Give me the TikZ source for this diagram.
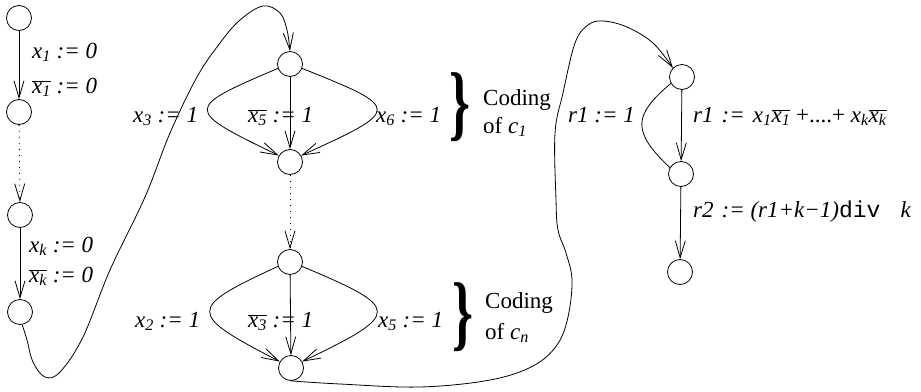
\documentclass[tikz,border=0pt]{standalone}
\usepackage{fontspec}
\setmainfont{Liberation Serif}
\setmonofont{Liberation Mono}
\usepackage{graphicx}
\usetikzlibrary{arrows.meta}
\newcommand\ov[1]{$\overline{\mbox{#1}}$}
\newcommand\sbs[1]{\textsubscript{#1}}
\begin{document}
\begin{tikzpicture}[x=1pt,y=-1pt,
  st/.style={circle,draw,minimum size=25pt,inner sep=0pt,line width=0.8pt},
  arr/.style={-{Straight Barb[length=17pt,width=10pt,line width=0.8pt]},line width=0.8pt},
  plain/.style={line width=0.8pt},
  dotarr/.style={arr,dash pattern=on 1pt off 5pt},
  lab/.style={anchor=base west,inner sep=0pt,font=\fontsize{23}{28}\selectfont\itshape},
  txt/.style={anchor=base west,inner sep=0pt,font=\fontsize{23}{28}\selectfont},
  brc/.style={inner sep=0pt}]
\useasboundingbox (0,0) rectangle (921,391);
% states
\node[st] (l1) at (19,18) {};
\node[st] (l2) at (19,112) {};
\node[st] (l3) at (20,215) {};
\node[st] (l4) at (20,312) {};
\node[st] (c1t) at (290,64) {};
\node[st] (c1b) at (290,162) {};
\node[st] (cnt) at (290,262) {};
\node[st] (cnb) at (291,368) {};
\node[st] (r1) at (682,77) {};
\node[st] (r2) at (681,174) {};
\node[st] (r3) at (680,272) {};
% left column
\draw[arr] (l1) -- (l2);
\draw[dotarr] (l2) -- (l3);
\draw[arr] (l3) -- (l4);
% clause c1
\draw[arr] (c1t) -- (c1b);
\draw[arr] (c1t.200) .. controls +(-94,40) and +(-95,-46) .. (c1b.150);
\draw[arr] (c1t.-20) .. controls +(100,40) and +(101,-46) .. (c1b.30);
\draw[dotarr] (c1b) -- (cnt);
% clause cn
\draw[arr] (cnt) -- (cnb);
\draw[arr] (cnt.200) .. controls +(-91,42) and +(-93,-48) .. (cnb.150);
\draw[arr] (cnt.-20) .. controls +(100,42) and +(100,-48) .. (cnb.30);
% right part
\draw[arr] (r1) -- (r2);
\draw[arr] (r2) -- (r3);
\draw[plain] (r1.210) .. controls +(-38,32) and +(-38,-36) .. (r2.150);
% long curves
\draw[arr] plot[smooth,tension=0.6] coordinates {(l4.-80) (27,340) (33,362) (45,377) (60,372) (83,337) (110,270) (145,197) (170,133) (197,77) (220,43) (240,20) (263,6) (280,13) (287,30) (c1t.north)};
\draw[arr] plot[smooth,tension=0.6] coordinates {(cnb.south) (340,384) (420,387) (490,380) (533,366) (557,345) (568,317) (572,280) (566,253) (558,230) (556,200) (555,133) (563,93) (575,43) (588,25) (603,21) (627,27) (653,43) (r1.135)};
% labels left
\node[lab] (t1) at (32,58) {x\sbs{1} := 0};
\node[lab] (t2) at (32,93) {\ov{x\sbs{1}} := 0};
\node[lab] (t3) at (29,252) {x\sbs{k} := 0};
\node[lab] (t4) at (29,282) {\ov{x\sbs{k}} := 0};
% labels middle
\node[lab] (m1) at (133,122) {x\sbs{3} := 1};
\node[lab] (m2) at (248,122) {\ov{x\sbs{5}} := 1};
\node[lab] (m3) at (376,122) {x\sbs{6} := 1};
\node[lab] (m4) at (135,327) {x\sbs{2} := 1};
\node[lab] (m5) at (248,327) {\ov{x\sbs{3}} := 1};
\node[lab] (m6) at (378,327) {x\sbs{5} := 1};
% braces and coding text
\node[brc] (b1) at (460,107.5) {\resizebox*{21pt}{69pt}{\bfseries\}}};
\node[brc] (b2) at (463,317.5) {\resizebox*{21pt}{69pt}{\bfseries\}}};
\node[txt] (cod1) at (483,105) {Coding};
\node[txt] (of1) at (483,133) {of \textit{c\sbs{1}}};
\node[txt] (cod2) at (485,308) {Coding};
\node[txt] (of2) at (485,339) {of \textit{c\sbs{n}}};
% labels right
\node[lab] (rl1) at (568,122) {r1 := 1};
\node[lab] (rl2) at (693,122) {r1\hspace{8pt}:=\hspace{8pt}x\sbs{1}\ov{x\sbs{1}} {\upshape +....+} x\sbs{k}\ov{x\sbs{k}}};
\node[lab] (rl3) at (693,217) {r2\hspace{8pt}:= (r1+k−1){\upshape\ttfamily div}\hspace{20pt}k};
\end{tikzpicture}
\end{document}
